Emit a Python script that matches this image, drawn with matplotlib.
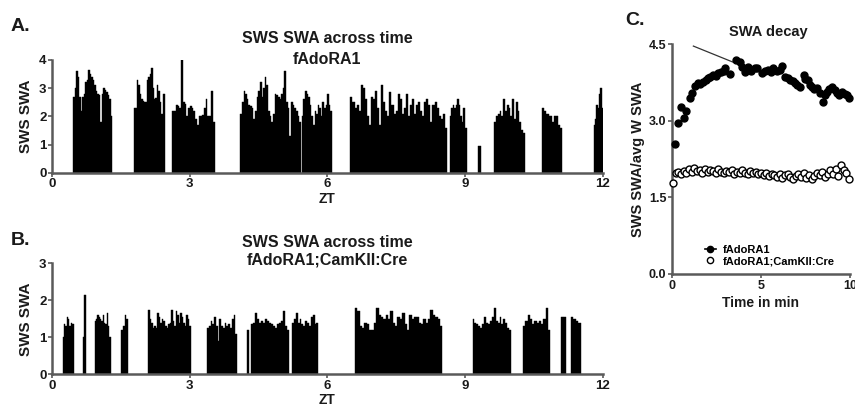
import matplotlib

matplotlib.use("Agg")
import matplotlib.pyplot as plt
import numpy as np
from matplotlib.lines import Line2D

plt.rcParams["font.family"] = ["Liberation Sans", "DejaVu Sans"]
plt.rcParams["font.weight"] = "bold"

# SWS SWA bouts per genotype: (start ZT, end ZT, SWA per bin)
bouts_fadora1 = [
    (0.46, 1.31, [2.7, 3.0, 3.6, 3.4, 2.7, 2.2, 2.7, 2.8, 3.2, 3.3, 3.65, 3.5, 3.4,
                  3.3, 3.1, 2.9, 2.8, 2.75, 1.8, 2.8, 3.0, 2.95, 2.85, 2.75, 2.6, 2.0]),
    (1.79, 2.47, [2.3, 2.3, 3.3, 3.1, 2.8, 2.6, 2.55, 2.5, 2.5, 3.3, 3.4, 3.5, 3.7,
                  3.0, 2.6, 2.65, 3.1, 2.9, 2.5, 2.1, 2.8, 2.8]),
    (2.62, 3.54, [2.2, 2.2, 2.4, 2.35, 2.3, 4.0, 2.5, 2.45, 2.0, 2.3, 2.35, 2.3, 2.2,
                  1.9, 1.7, 2.0, 2.0, 2.05, 2.3, 2.6, 2.0, 2.0, 2.9, 1.8]),
    (4.10, 5.42, [2.1, 2.5, 2.9, 2.8, 2.6, 2.4, 2.35, 2.3, 1.9, 2.2, 2.7, 2.9, 3.2,
                  2.7, 3.0, 3.4, 3.1, 2.2, 2.0, 1.8, 2.1, 2.8, 2.75, 2.7, 2.6, 2.8,
                  3.0, 3.6, 2.5, 2.3, 1.3, 2.5, 2.4, 2.3, 2.2, 2.0, 1.8]),
    (5.44, 6.10, [2.0, 2.6, 2.9, 2.8, 2.7, 2.4, 2.0, 1.7, 2.2, 2.1, 2.4, 2.3, 2.0,
                  2.5, 2.3, 2.4, 2.8, 2.4, 2.2]),
    (6.50, 8.60, [2.7, 2.5, 2.3, 2.4, 2.2, 3.1, 3.0, 2.6, 2.0, 1.7, 2.7, 2.6, 2.9,
                  2.3, 1.7, 3.1, 2.5, 2.2, 2.0, 2.85, 2.4, 2.1, 2.2, 2.8, 2.6, 2.1,
                  2.3, 2.8, 2.0, 2.4, 2.6, 2.1, 2.4, 2.5, 2.2, 2.0, 2.5, 2.6, 2.4,
                  1.8, 2.4, 2.5, 2.3, 2.0, 1.9, 2.1, 1.6]),
    (8.66, 9.03, [2.0, 2.3, 2.4, 2.3, 2.4, 2.6, 2.4, 2.0, 1.8, 2.3, 1.6]),
    (9.28, 9.34, [0.93]),
    (9.63, 10.30, [1.8, 2.0, 2.1, 2.2, 2.0, 2.6, 2.2, 2.4, 2.3, 2.0, 2.6, 1.9, 2.5,
                   2.2, 1.8, 1.5, 1.4]),
    (10.68, 11.10, [2.3, 2.2, 2.1, 2.1, 2.0, 2.0, 1.8, 2.0, 2.0, 2.0, 1.7, 1.6]),
    (11.80, 12.00, [1.7, 1.9, 2.4, 2.3, 2.8, 3.0, 2.3]),
]

bouts_camkii = [
    (0.23, 0.47, [1.0, 1.35, 1.3, 1.55, 1.5, 1.3, 1.4, 1.35]),
    (0.67, 0.74, [1.0, 2.15, 2.15]),
    (0.93, 1.28, [1.45, 1.5, 1.6, 1.55, 1.5, 1.45, 1.6, 1.4, 1.35, 1.65, 1.3, 1.0]),
    (1.50, 1.66, [1.2, 1.3, 1.6, 1.5]),
    (2.10, 3.02, [1.75, 1.5, 1.4, 1.25, 1.3, 1.25, 1.65, 1.55, 1.4, 1.5, 1.45, 1.3,
                  1.25, 1.35, 1.4, 1.75, 1.45, 1.3, 1.7, 1.6, 1.4, 1.65, 1.55, 1.4,
                  1.3, 1.6, 1.5, 1.3]),
    (3.38, 4.03, [1.25, 1.3, 1.45, 1.35, 1.55, 1.3, 0.9, 1.5, 1.3, 1.25, 1.4, 1.3,
                  1.35, 1.25, 1.5, 1.6, 1.1]),
    (4.24, 4.29, [1.2]),
    (4.34, 5.17, [1.35, 1.4, 1.65, 1.5, 1.4, 1.45, 1.4, 1.5, 1.45, 1.4, 1.35, 1.3,
                  1.25, 1.35, 1.4, 1.45, 1.7, 1.3, 1.2]),
    (5.23, 5.80, [1.4, 1.5, 1.65, 1.4, 1.5, 1.35, 1.3, 1.45, 1.4, 1.3, 1.55, 1.6,
                  1.35, 1.4]),
    (6.60, 8.50, [1.8, 1.7, 1.3, 1.25, 1.4, 1.35, 1.2, 1.2, 1.4, 1.8, 1.6, 1.55, 1.5,
                  1.6, 1.5, 1.7, 1.4, 1.3, 1.55, 1.5, 1.65, 1.35, 1.2, 1.6, 1.5, 1.55,
                  1.55, 1.4, 1.35, 1.5, 1.4, 1.5, 1.75, 1.6, 1.55, 1.5, 1.3]),
    (9.16, 10.00, [1.5, 1.4, 1.35, 1.3, 1.25, 1.35, 1.55, 1.4, 1.35, 1.45, 1.55, 1.8,
                   1.45, 1.4, 1.55, 1.35, 1.5, 1.4, 1.25, 1.2]),
    (10.26, 10.85, [1.3, 1.45, 1.6, 1.5, 1.35, 1.45, 1.4, 1.45, 1.35, 1.5, 1.8, 1.2]),
    (11.08, 11.20, [1.55, 1.55]),
    (11.30, 11.52, [1.55, 1.5, 1.45, 1.4]),
]

zt_ticks = [0, 3, 6, 9, 12]

# SWA decay within the first 10 min of NREM bouts
decay_t_fadora1 = [0.15, 0.34, 0.5, 0.67, 0.8, 1.0, 1.12, 1.3, 1.46, 1.6, 1.74, 1.9, 2.0,
                   2.15, 2.3, 2.45, 2.6, 2.75, 2.9, 3.0, 3.25, 3.6, 3.8, 3.95, 4.1, 4.27,
                   4.45, 4.66, 4.8, 5.05, 5.2, 5.4, 5.55, 5.7, 5.9, 6.07, 6.2, 6.35, 6.5,
                   6.63, 6.8, 6.9, 7.05, 7.2, 7.4, 7.5, 7.64, 7.75, 7.86, 8.0, 8.15, 8.3,
                   8.5, 8.6, 8.7, 8.85, 9.0, 9.15, 9.27, 9.4, 9.55, 9.7, 9.83, 9.95]
decay_swa_fadora1 = [2.54, 2.95, 3.27, 3.05, 3.19, 3.44, 3.54, 3.68, 3.74, 3.72, 3.76, 3.8,
                     3.83, 3.85, 3.9, 3.88, 3.93, 3.95, 3.98, 4.03, 3.91, 4.19, 4.15, 4.05,
                     3.95, 4.05, 3.98, 4.03, 4.03, 3.93, 3.98, 4.0, 3.96, 4.03, 3.98, 4.0,
                     4.07, 3.86, 3.83, 3.8, 3.77, 3.74, 3.7, 3.66, 3.9, 3.82, 3.8, 3.7,
                     3.66, 3.62, 3.64, 3.54, 3.37, 3.5, 3.56, 3.62, 3.66, 3.6, 3.54, 3.5,
                     3.56, 3.52, 3.5, 3.44]

decay_t_camkii = [0.05, 0.2, 0.35, 0.5, 0.65, 0.8, 0.95, 1.1, 1.25, 1.4, 1.55, 1.7, 1.85,
                  2.0, 2.15, 2.3, 2.45, 2.6, 2.75, 2.9, 3.05, 3.2, 3.35, 3.5, 3.65, 3.8,
                  3.95, 4.1, 4.25, 4.4, 4.55, 4.7, 4.85, 5.0, 5.15, 5.3, 5.45, 5.6, 5.75,
                  5.9, 6.05, 6.2, 6.35, 6.5, 6.65, 6.8, 6.95, 7.1, 7.25, 7.4, 7.55, 7.7,
                  7.85, 8.0, 8.15, 8.3, 8.45, 8.6, 8.75, 8.9, 9.05, 9.2, 9.35, 9.5, 9.65,
                  9.8, 9.95]
decay_swa_camkii = [1.78, 1.97, 2.0, 1.95, 2.02, 1.98, 2.05, 2.0, 2.08, 2.02, 2.04, 1.98,
                    2.06, 2.0, 2.04, 2.02, 1.97, 2.05, 2.0, 1.97, 2.02, 1.99, 2.04, 1.96,
                    2.0, 1.98, 2.03, 1.98, 1.95, 2.01, 1.97, 2.0, 1.95, 1.98, 1.94, 1.98,
                    1.92, 1.96, 1.94, 1.9, 1.95, 1.88, 1.93, 1.95, 1.9, 1.85, 1.92, 1.96,
                    1.9, 1.98, 1.88, 1.94, 1.86, 1.92, 1.97, 1.93, 2.0, 1.9, 1.96, 2.03,
                    1.95, 2.05, 1.92, 2.13, 2.03, 1.98, 1.86]

# pointer line for the decay annotation (time, SWA)
decay_pointer = ([1.2, 3.4], [4.46, 4.15])

AXIS_COLOR = "#5a5a5a"
TEXT_COLOR = "#1a1a1a"


def style_axes(axes):
    for side in ("top", "right"):
        axes.spines[side].set_visible(False)
    for side in ("left", "bottom"):
        axes.spines[side].set_color(AXIS_COLOR)
        axes.spines[side].set_linewidth(1.8)
    axes.tick_params(colors=AXIS_COLOR, labelcolor=TEXT_COLOR, width=1.2, length=3,
                     labelsize=9.5, pad=1)
    for label in axes.get_xticklabels() + axes.get_yticklabels():
        label.set_fontweight("bold")


def plot_bouts(axes, bouts, ymax):
    for start, end, values in bouts:
        edges = np.linspace(start, end, len(values) + 1)
        axes.bar(edges[:-1], values, width=np.diff(edges), align="edge",
                 color="black", edgecolor="black", linewidth=0.3)
    axes.set_xlim(0, 12)
    axes.set_ylim(0, ymax)
    axes.set_xticks(zt_ticks)
    axes.set_yticks(range(ymax + 1))
    axes.set_ylabel("SWS SWA", fontsize=11, fontweight="bold", color=TEXT_COLOR, labelpad=4)
    style_axes(axes)


fig = plt.figure(figsize=(8.55, 4.07), dpi=100)

# A: fAdoRA1 across the light phase
ax_a = fig.add_axes([0.0608, 0.5757, 0.6444, 0.277])
plot_bouts(ax_a, bouts_fadora1, 4)
ax_a.set_xlabel("ZT", fontsize=10, fontweight="bold", color=TEXT_COLOR, labelpad=1)
fig.text(0.383, 0.905, "SWS SWA across time", ha="center", va="center",
         fontsize=11.5, fontweight="bold", color=TEXT_COLOR)
fig.text(0.383, 0.853, "fAdoRA1", ha="center", va="center",
         fontsize=11.5, fontweight="bold", color=TEXT_COLOR)
fig.text(0.012, 0.935, "A.", ha="left", va="center", fontsize=14,
         fontweight="bold", color=TEXT_COLOR)

# B: fAdoRA1;CamKII:Cre across the light phase
ax_b = fig.add_axes([0.0608, 0.0803, 0.6444, 0.2727])
plot_bouts(ax_b, bouts_camkii, 3)
ax_b.set_xlabel("ZT", fontsize=10, fontweight="bold", color=TEXT_COLOR, labelpad=1)
fig.text(0.383, 0.403, "SWS SWA across time", ha="center", va="center",
         fontsize=11.5, fontweight="bold", color=TEXT_COLOR)
fig.text(0.383, 0.361, "fAdoRA1;CamKII:Cre", ha="center", va="center",
         fontsize=11.5, fontweight="bold", color=TEXT_COLOR)
fig.text(0.012, 0.41, "B.", ha="left", va="center", fontsize=14,
         fontweight="bold", color=TEXT_COLOR)

# C: SWA decay over the first 10 min
ax_c = fig.add_axes([0.786, 0.3268, 0.208, 0.565])
ax_c.plot(decay_t_fadora1, decay_swa_fadora1, "o", color="black", markersize=5,
          clip_on=False, zorder=3)
ax_c.plot(decay_t_camkii, decay_swa_camkii, "o", markerfacecolor="white",
          markeredgecolor="black", markeredgewidth=1.0, markersize=5,
          clip_on=False, zorder=3)
ax_c.plot(*decay_pointer, color="#333333", linewidth=0.9)
ax_c.set_xlim(0, 10)
ax_c.set_ylim(0, 4.5)
ax_c.set_xticks([0, 5, 10])
ax_c.set_yticks([0.0, 1.5, 3.0, 4.5])
ax_c.set_yticklabels(["0.0", "1.5", "3.0", "4.5"])
ax_c.set_xlabel("Time in min", fontsize=10, fontweight="bold", color=TEXT_COLOR, labelpad=3)
ax_c.set_ylabel("SWS SWA/avg W SWA", fontsize=10.5, fontweight="bold",
                color=TEXT_COLOR, labelpad=3)
style_axes(ax_c)
ax_c.tick_params(labelsize=9)
ax_c.text(5.4, 4.73, "SWA decay", ha="center", va="center", fontsize=10.5,
          fontweight="bold", color=TEXT_COLOR)
handles = [
    Line2D([], [], color="black", marker="o", markersize=4.5, linewidth=1.2),
    Line2D([], [], color="black", marker="o", markersize=4.5, markerfacecolor="white",
           markeredgewidth=1.0, linestyle="none"),
]
ax_c.legend(handles, ["fAdoRA1", "fAdoRA1;CamKII:Cre"], loc="lower left",
            bbox_to_anchor=(0.14, 0.0), frameon=False,
            handlelength=1.0, handletextpad=0.6, labelspacing=0.15, borderpad=0.2,
            prop={"weight": "bold", "size": 8})
fig.text(0.731, 0.95, "C.", ha="left", va="center", fontsize=14,
         fontweight="bold", color=TEXT_COLOR)

fig.savefig("out.png", dpi=100, facecolor="white")
plt.close(fig)
